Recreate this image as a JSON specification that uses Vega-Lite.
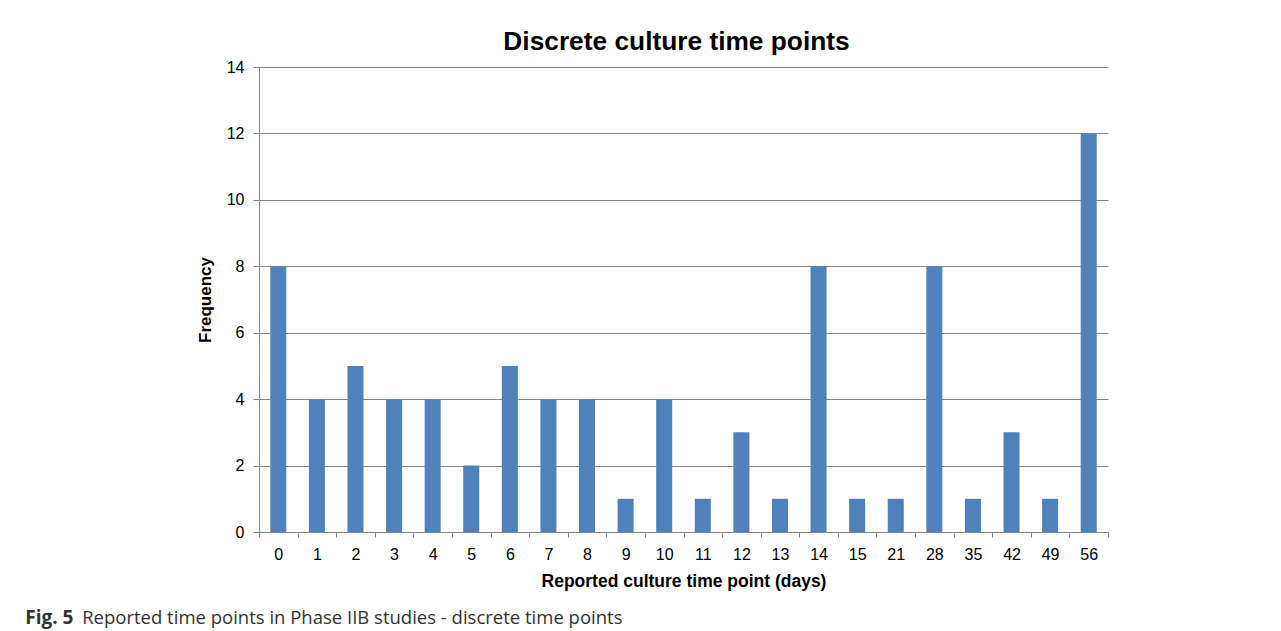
{
  "$schema": "https://vega.github.io/schema/vega-lite/v6.json",
  "padding": {"left": 25, "top": 28, "right": 5, "bottom": 5},
  "background": "white",
  "config": {
    "font": "Liberation Sans",
    "view": {"stroke": null},
    "concat": {"spacing": 0}
  },
  "title": {
    "text": "Fig. 5",
    "orient": "bottom",
    "anchor": "start",
    "font": "Open Sans",
    "fontSize": 19,
    "fontWeight": "bold",
    "color": "#333333",
    "dx": -57,
    "offset": -18
  },
  "vconcat": [
    {
      "title": {
        "text": "Reported time points in Phase IIB studies - discrete time points",
        "orient": "bottom",
        "anchor": "start",
        "font": "Open Sans",
        "fontSize": 18.5,
        "fontWeight": "normal",
        "color": "#333333",
        "dx": -114,
        "offset": 19
      },
      "vconcat": [
        {
          "title": {
            "text": "Discrete culture time points",
            "fontSize": 26.3,
            "fontWeight": "bold",
            "color": "#000000",
            "dx": -7,
            "offset": 4
          },
          "width": 849,
          "height": 465,
          "data": {
            "values": [
              {"day": "0", "freq": 8},
              {"day": "1", "freq": 4},
              {"day": "2", "freq": 5},
              {"day": "3", "freq": 4},
              {"day": "4", "freq": 4},
              {"day": "5", "freq": 2},
              {"day": "6", "freq": 5},
              {"day": "7", "freq": 4},
              {"day": "8", "freq": 4},
              {"day": "9", "freq": 1},
              {"day": "10", "freq": 4},
              {"day": "11", "freq": 1},
              {"day": "12", "freq": 3},
              {"day": "13", "freq": 1},
              {"day": "14", "freq": 8},
              {"day": "15", "freq": 1},
              {"day": "21", "freq": 1},
              {"day": "28", "freq": 8},
              {"day": "35", "freq": 1},
              {"day": "42", "freq": 3},
              {"day": "49", "freq": 1},
              {"day": "56", "freq": 12}
            ]
          },
          "mark": {"type": "bar", "color": "#4F81BD", "width": {"band": 0.415}},
          "encoding": {
            "x": {
              "field": "day",
              "type": "ordinal",
              "sort": null,
              "scale": {"paddingInner": 0, "paddingOuter": 0},
              "axis": {
                "title": "Reported culture time point (days)",
                "titleFontSize": 17.5,
                "titleFontWeight": "bold",
                "titleColor": "#000000",
                "titlePadding": 10,
                "labelAngle": 0,
                "labelFontSize": 16,
                "labelColor": "#000000",
                "labelPadding": 9,
                "tickBand": "extent",
                "tickSize": 5,
                "tickColor": "#868686",
                "domainColor": "#868686",
                "grid": false
              }
            },
            "y": {
              "field": "freq",
              "type": "quantitative",
              "scale": {"domain": [0, 14]},
              "axis": {
                "title": "Frequency",
                "titleFontSize": 17,
                "titleFontWeight": "bold",
                "titleColor": "#000000",
                "titlePadding": 12,
                "values": [0, 2, 4, 6, 8, 10, 12, 14],
                "labelFontSize": 16,
                "labelColor": "#000000",
                "labelPadding": 9,
                "tickSize": 6,
                "tickColor": "#868686",
                "domainColor": "#868686",
                "gridColor": "#868686",
                "gridWidth": 1
              }
            }
          }
        }
      ]
    }
  ]
}
